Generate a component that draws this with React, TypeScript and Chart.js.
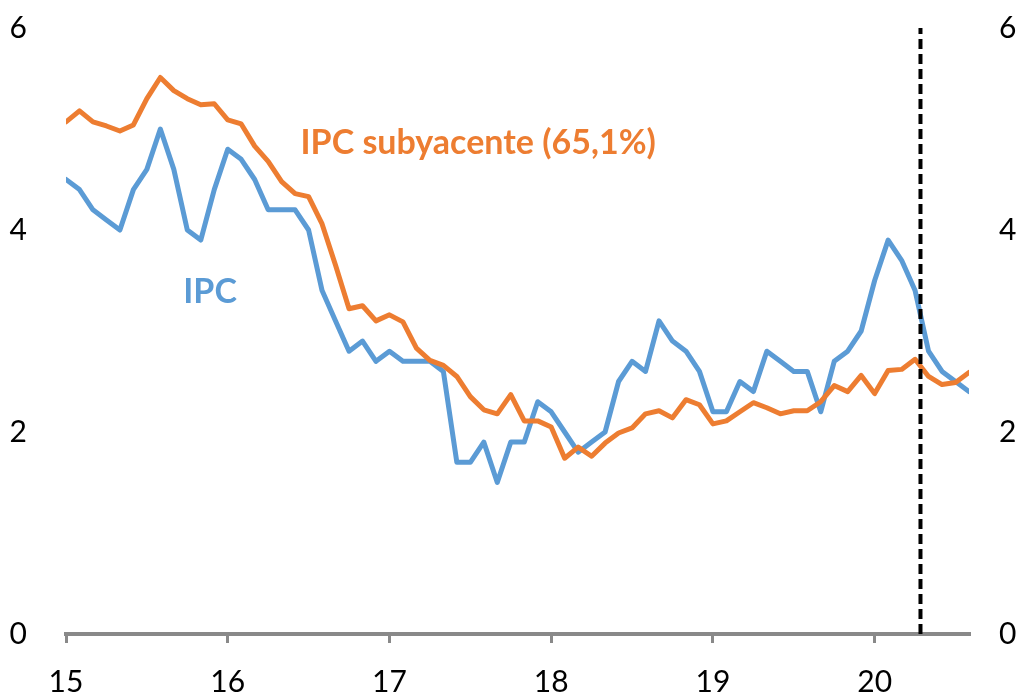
import React, { useEffect, useRef } from "react";
import { Chart, registerables } from "chart.js";

Chart.register(...registerables);

// Monthly data, Jan 2015 (index 0) to Aug 2020 (index 67)
const startYear = 15;
const ipc = [
  4.5, 4.4, 4.2, 4.1, 4.0, 4.4, 4.6, 5.0, 4.6, 4.0, 3.9, 4.4,
  4.8, 4.7, 4.5, 4.2, 4.2, 4.2, 4.0, 3.4, 3.1, 2.8, 2.9, 2.7,
  2.8, 2.7, 2.7, 2.7, 2.6, 1.7, 1.7, 1.9, 1.5, 1.9, 1.9, 2.3,
  2.2, 2.0, 1.8, 1.9, 2.0, 2.5, 2.7, 2.6, 3.1, 2.9, 2.8, 2.6,
  2.2, 2.2, 2.5, 2.4, 2.8, 2.7, 2.6, 2.6, 2.2, 2.7, 2.8, 3.0,
  3.5, 3.9, 3.7, 3.4, 2.8, 2.6, 2.5, 2.4,
];
const core = [
  5.07, 5.18, 5.07, 5.03, 4.98, 5.04, 5.3, 5.51, 5.38, 5.3, 5.24, 5.25,
  5.09, 5.05, 4.83, 4.68, 4.48, 4.36, 4.33, 4.06, 3.65, 3.22, 3.25, 3.1,
  3.16, 3.09, 2.83, 2.71, 2.66, 2.55, 2.35, 2.22, 2.18, 2.37, 2.11, 2.11,
  2.05, 1.74, 1.85, 1.76, 1.89, 1.99, 2.04, 2.18, 2.21, 2.14, 2.32, 2.27,
  2.08, 2.11, 2.2, 2.29, 2.24, 2.18, 2.21, 2.21, 2.3, 2.46, 2.4, 2.56,
  2.38, 2.61, 2.62, 2.72, 2.55, 2.47, 2.49, 2.59,
];
const xTickValues = [0, 12, 24, 36, 48, 60];
const xTickLabels = ["15", "16", "17", "18", "19", "20"];
const yTickValues = [0, 2, 4, 6];
const markerMonth = 63.4;
const coreLabel = { text: "IPC subyacente (65,1%)", x: 17.4, y: 4.86 };
const ipcLabel = { text: "IPC", x: 8.7, y: 3.39 };

const BLUE = "#5B9BD5";
const ORANGE = "#ED7D31";
const AXIS = "#898989";
const TICK_FONT = { family: "Lato", size: 30 };
const LABEL_FONT = "bold 34px Lato";

const labelPlugin = {
  id: "seriesLabels",
  afterDatasetsDraw(chart: any) {
    const { ctx, scales } = chart;
    const xs = scales.x;
    const ys = scales.y;
    ctx.save();
    ctx.font = LABEL_FONT;
    ctx.textAlign = "left";
    ctx.textBaseline = "middle";
    ctx.fillStyle = ORANGE;
    ctx.fillText(coreLabel.text, xs.getPixelForValue(coreLabel.x), ys.getPixelForValue(coreLabel.y));
    ctx.fillStyle = BLUE;
    ctx.fillText(ipcLabel.text, xs.getPixelForValue(ipcLabel.x), ys.getPixelForValue(ipcLabel.y));
    ctx.restore();
  },
};

export default function App() {
  const ref = useRef<HTMLCanvasElement | null>(null);

  useEffect(() => {
    if (!ref.current) return;
    const yAxisCommon = {
      type: "linear" as const,
      min: 0,
      max: 6,
      afterBuildTicks: (s: any) => {
        s.ticks = yTickValues.map((v) => ({ value: v }));
      },
      grid: { display: false },
      border: { display: false },
      ticks: { font: TICK_FONT, color: "#000" },
    };
    const chart = new Chart(ref.current, {
      type: "line",
      data: {
        datasets: [
          {
            label: "marker",
            data: [
              { x: markerMonth, y: 0 },
              { x: markerMonth, y: 6 },
            ],
            borderColor: "#000",
            borderWidth: 4,
            borderDash: [10, 5],
            pointRadius: 0,
            order: 0,
          },
          {
            label: "IPC subyacente (65,1%)",
            data: core.map((v, i) => ({ x: i, y: v })),
            borderColor: ORANGE,
            borderWidth: 5,
            pointRadius: 0,
            tension: 0,
            borderJoinStyle: "round",
            borderCapStyle: "round",
            order: 1,
          },
          {
            label: "IPC",
            data: ipc.map((v, i) => ({ x: i, y: v })),
            borderColor: BLUE,
            borderWidth: 5,
            pointRadius: 0,
            tension: 0,
            borderJoinStyle: "round",
            borderCapStyle: "round",
            order: 2,
          },
        ],
      },
      options: {
        animation: false,
        responsive: false,
        devicePixelRatio: 1,
        layout: { padding: { top: 28, left: 0, right: 0, bottom: 0 } },
        plugins: { legend: { display: false }, tooltip: { enabled: false } },
        scales: {
          x: {
            type: "linear",
            min: 0,
            max: 67,
            afterBuildTicks: (s: any) => {
              s.ticks = xTickValues.map((v) => ({ value: v }));
            },
            afterFit: (s: any) => {
              s.height = 64;
              s.paddingLeft = 0;
              s.paddingRight = 0;
            },
            grid: {
              display: true,
              drawOnChartArea: false,
              drawTicks: true,
              tickLength: 9,
              color: AXIS,
              lineWidth: 3,
            },
            border: { display: true, color: AXIS, width: 4 },
            ticks: {
              font: TICK_FONT,
              color: "#000",
              padding: 21,
              maxRotation: 0,
              callback: (v: any) => xTickLabels[xTickValues.indexOf(Number(v))] ?? "",
            },
          },
          y: {
            ...yAxisCommon,
            position: "left",
            afterFit: (s: any) => {
              s.width = 66;
              s.paddingTop = 0;
              s.paddingBottom = 0;
            },
            ticks: { ...yAxisCommon.ticks, padding: 31 },
          },
          y2: {
            ...yAxisCommon,
            position: "right",
            afterFit: (s: any) => {
              s.width = 54;
              s.paddingTop = 0;
              s.paddingBottom = 0;
            },
            ticks: { ...yAxisCommon.ticks, padding: 22 },
          },
        },
      } as any,
      plugins: [labelPlugin],
    });
    return () => chart.destroy();
  }, []);

  return (
    <div style={{ position: "absolute", left: 0, top: 0, width: 1023, height: 698, background: "#fff" }}>
      <canvas ref={ref} width={1023} height={698} style={{ display: "block" }} />
    </div>
  );
}
